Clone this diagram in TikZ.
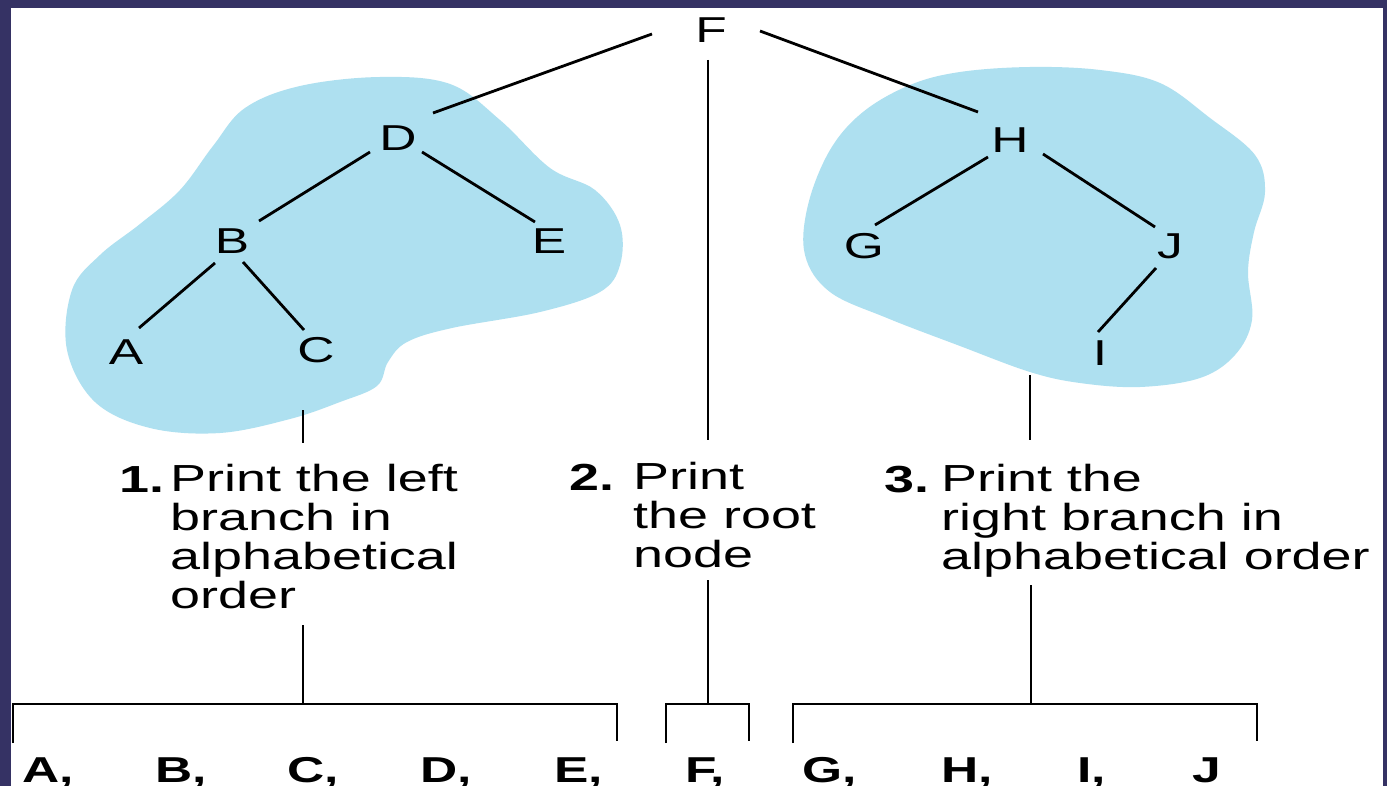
\documentclass[tikz,border=0pt]{standalone}
\usepackage{fontspec}
\setmainfont{Liberation Sans}
\newfontfamily\widesans[FakeStretch=1.43]{Liberation Sans}
\usetikzlibrary{calc}
\definecolor{framenavy}{RGB}{53,50,100}
\definecolor{blobblue}{RGB}{174,224,240}

\begin{document}
\begin{tikzpicture}[x=1pt,y=-1pt,
  treeletter/.style={inner sep=0pt, font=\widesans\fontsize{36}{36}\selectfont},
  steptext/.style={inner sep=0pt, anchor=base west, align=left,
    font=\widesans\fontsize{37.7}{38.7}\selectfont},
  stepnum/.style={inner sep=0pt, anchor=base west,
    font=\widesans\bfseries\fontsize{37.7}{38.7}\selectfont},
  outletter/.style={inner sep=0pt, anchor=base west,
    font=\widesans\bfseries\fontsize{36}{36}\selectfont},
  link/.style={line width=2.8pt, draw=black},
  blob/.style={fill=blobblue, draw=none}
]
\useasboundingbox (0,0) rectangle (1387,786);
\fill[white] (0,0) rectangle (1387,786);

% shaded sub-trees
\path[blob] plot[smooth cycle, tension=0.6] coordinates {
  (380,77) (450,84) (500,120) (550,168) (595,190) (620,225) (620,265)
  (600,292) (540,312) (452,328) (407,342) (388,362) (377,386) (340,402)
  (290,419) (220,433) (150,428) (95,402) (67,350) (72,290) (100,255)
  (140,224) (180,190) (213,146) (245,108) (300,86)};
\path[blob] plot[smooth cycle, tension=0.6] coordinates {
  (1100,70) (1160,83) (1210,118) (1255,155) (1265,192) (1254,232)
  (1248,272) (1252,320) (1235,355) (1200,378) (1140,387) (1080,383)
  (1030,372) (960,346) (887,318) (830,292) (805,255) (808,205) (830,150)
  (863,112) (910,85) (960,72) (1030,67)};

% tree nodes
\node[treeletter] (F) at (711,30) {F};
\node[treeletter] (D) at (398,138) {D};
\node[treeletter] (H) at (1010,140) {H};
\node[treeletter] (B) at (232,241) {B};
\node[treeletter] (E) at (549,241) {E};
\node[treeletter] (A) at (126,352) {A};
\node[treeletter] (C) at (316,350) {C};
\node[treeletter] (G) at (864,246) {G};
\node[treeletter] (J) at (1170,246) {J};
\node[treeletter] (I) at (1100,353) {I};

% tree edges
\draw[link] ($(F)+(-59,4)$) -- ($(D)+(35,-25)$);
\draw[link] ($(F)+(49,1)$) -- ($(H)+(-32,-28)$);
\draw[link] ($(D)+(-28,14)$) -- ($(B)+(27,-20)$);
\draw[link] ($(D)+(24,14)$) -- ($(E)+(-14,-19)$);
\draw[link] ($(B)+(-17,22)$) -- ($(A)+(13,-24)$);
\draw[link] ($(B)+(11,21)$) -- ($(C)+(-12,-20)$);
\draw[link] ($(H)+(-22,17)$) -- ($(G)+(11,-21)$);
\draw[link] ($(H)+(33,14)$) -- ($(J)+(-15,-19)$);
\draw[link] ($(J)+(-14,22)$) -- ($(I)+(-2,-21)$);

% the three steps (multi-line texts sit on the baseline of their last line)
\node[stepnum]  (n1) at (119,492) {1.};
\node[steptext] (step1) at (170,608) {Print the left\\branch in\\alphabetical\\order};
\node[stepnum]  (n2) at (569,490) {2.};
\node[steptext] (step2) at (633,567) {Print\\the root\\node};
\node[stepnum]  (n3) at (884,492) {3.};
\node[steptext] (step3) at (941,569) {Print the\\right branch in\\alphabetical order};

% leads from the tree parts to the steps
\coordinate (lefttreeout) at (303,410);
\coordinate (step1in) at (303,443);
\coordinate (step2in) at (708,440);
\coordinate (righttreeout) at (1030,375);
\coordinate (step3in) at (1030,440);
\draw[link] (lefttreeout) -- (step1in);
\draw[link] ($(F)+(-3,30)$) -- (step2in);
\draw[link] (righttreeout) -- (step3in);

% leads from the steps to the output brackets
\coordinate (step1out) at (303,625);
\coordinate (step2out) at (708,580);
\coordinate (step3out) at (1031,585);
\coordinate (brack1) at (303,704);
\coordinate (brack2) at (708,704);
\coordinate (brack3) at (1031,704);
\draw[link] (step1out) -- (brack1);
\draw[link] (step2out) -- (brack2);
\draw[link] (step3out) -- (brack3);

% output brackets
\draw[link, line join=miter] (13,743) -- (13,704) -- (617,704) -- (617,741);
\draw[link, line join=miter] (666,743) -- (666,704) -- (749,704) -- (749,741);
\draw[link, line join=miter] (793,743) -- (793,704) -- (1257,704) -- (1257,741);

% printed order
\node[outletter] (oA) at (22,782) {A,};
\node[outletter] (oB) at (155,782) {B,};
\node[outletter] (oC) at (287,782) {C,};
\node[outletter] (oD) at (420,782) {D,};
\node[outletter] (oE) at (554,782) {E,};
\node[outletter] (oF) at (685,782) {F,};
\node[outletter] (oG) at (802,782) {G,};
\node[outletter] (oH) at (941,782) {H,};
\node[outletter] (oI) at (1077,782) {I,};
\node[outletter] (oJ) at (1192,782) {J};

% frame bars
\fill[framenavy] (0,0) rectangle (1387,8);
\fill[framenavy] (0,0) rectangle (11,786);
\fill[framenavy] (1383,0) rectangle (1387,786);
\end{tikzpicture}
\end{document}
